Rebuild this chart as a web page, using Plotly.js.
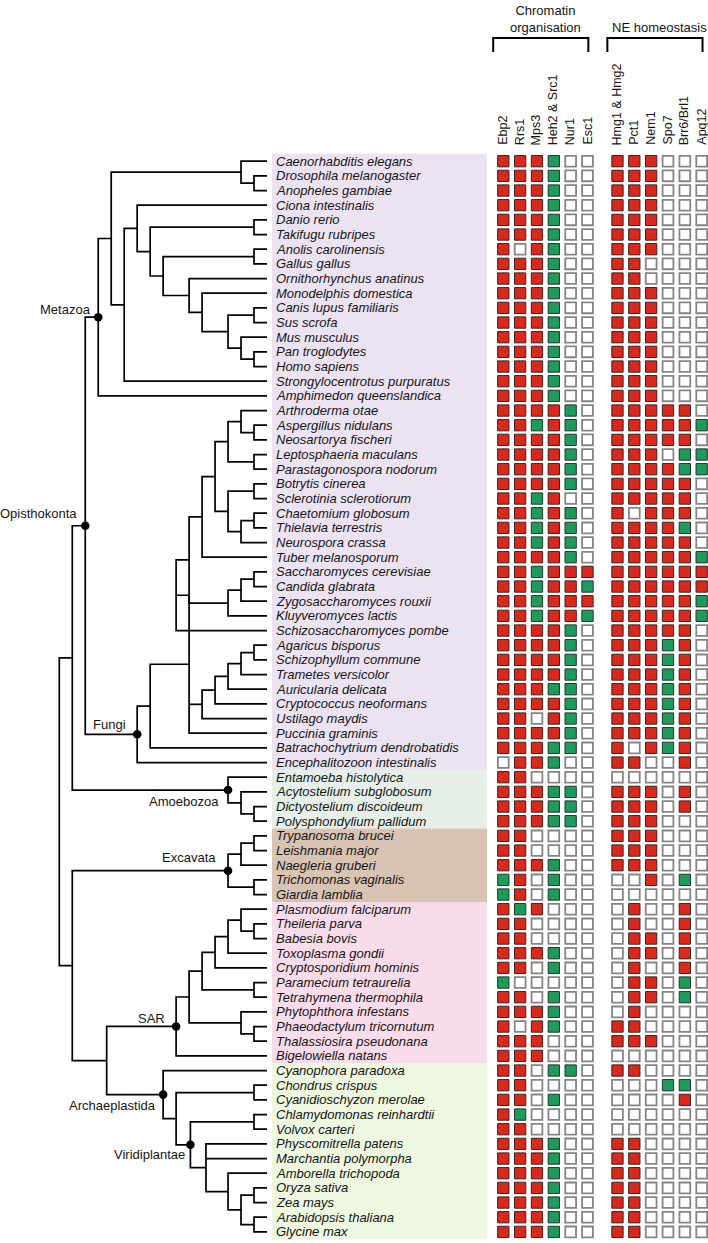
<!DOCTYPE html>
<html>
<head>
<meta charset="utf-8">
<script src="https://cdn.plot.ly/plotly-3.0.1.min.js"></script>
<style>
  html, body { margin: 0; padding: 0; background: #ffffff; }
  #chart { width: 708px; height: 1243px; }
</style>
</head>
<body>
<div id="chart"></div>
<script>
// ---------------- DATA ----------------
const species = [
  'Caenorhabditis elegans','Drosophila melanogaster','Anopheles gambiae','Ciona intestinalis',
  'Danio rerio','Takifugu rubripes','Anolis carolinensis','Gallus gallus','Ornithorhynchus anatinus',
  'Monodelphis domestica','Canis lupus familiaris','Sus scrofa','Mus musculus','Pan troglodytes',
  'Homo sapiens','Strongylocentrotus purpuratus','Amphimedon queenslandica',
  'Arthroderma otae','Aspergillus nidulans','Neosartorya fischeri','Leptosphaeria maculans',
  'Parastagonospora nodorum','Botrytis cinerea','Sclerotinia sclerotiorum','Chaetomium globosum',
  'Thielavia terrestris','Neurospora crassa','Tuber melanosporum','Saccharomyces cerevisiae',
  'Candida glabrata','Zygosaccharomyces rouxii','Kluyveromyces lactis','Schizosaccharomyces pombe',
  'Agaricus bisporus','Schizophyllum commune','Trametes versicolor','Auricularia delicata',
  'Cryptococcus neoformans','Ustilago maydis','Puccinia graminis','Batrachochytrium dendrobatidis',
  'Encephalitozoon intestinalis',
  'Entamoeba histolytica','Acytostelium subglobosum','Dictyostelium discoideum','Polysphondylium pallidum',
  'Trypanosoma brucei','Leishmania major','Naegleria gruberi','Trichomonas vaginalis','Giardia lamblia',
  'Plasmodium falciparum','Theileria parva','Babesia bovis','Toxoplasma gondii','Cryptosporidium hominis',
  'Paramecium tetraurelia','Tetrahymena thermophila','Phytophthora infestans','Phaeodactylum tricornutum',
  'Thalassiosira pseudonana','Bigelowiella natans',
  'Cyanophora paradoxa','Chondrus crispus','Cyanidioschyzon merolae','Chlamydomonas reinhardtii',
  'Volvox carteri','Physcomitrella patens','Marchantia polymorpha','Amborella trichopoda',
  'Oryza sativa','Zea mays','Arabidopsis thaliana','Glycine max'
];

const chromatinGenes = ['Ebp2','Rrs1','Mps3','Heh2 & Src1','Nur1','Esc1'];
const neGenes = ['Hmg1 & Hmg2','Pct1','Nem1','Spo7','Brr6/Brl1','Apq12'];
const groupTitles = ['Chromatin<br>organisation','NE homeostasis'];

// R = red square, G = green square, . = empty square (one char per gene, species order)
const chromatinCalls = [
  'RRRG..','RRRG..','RRRG..','RRRG..','RRRG..','RRRG..','R.RG..','RRRG..','RRRG..','RRRG..',
  'RRRG..','RRRG..','RRRG..','RRRG..','RRRG..','RRRG..','RRRG..',
  'RRRRG.','RRGRG.','RRRRG.','RRRRG.','RRRRG.','RRRRG.','RRGR..','RRGRG.','RRGRG.','RRGRG.',
  'RRRRG.','RRGRRR','RRGRRG','RRGRRR','RRGRRG','RRRRG.','RRRRG.','RRRRG.','RRRRG.','RRRGG.',
  'RRRRG.','RR.RG.','RRRRG.','RRRGG.','.RRG..',
  'RR....','RRRGG.','RRRGG.','RRRGG.',
  'RR....','RR....','RRRG..','GR.G..','GR.G..',
  'RGR...','RR....','RR....','RRRG..','RR.G..','G.....','RR.G..','RRRG..','R.RG..','RRR...','RRR...',
  'RR.GG.','RR....','RR.G..','RG....','RR....','RRRG..','RRRG..','RRRG..','RRRG..','RRRG..','RRRG..','RRRG..'
];
const neCalls = [
  'RRR...','RRR...','RRR...','RRR...','RRR...','RRR...','RRR...','RR....','RR....','RRR...',
  'RRR...','RRR...','RRR...','RRR...','RRR...','RRR...','RRR...',
  'RRRRR.','RRRRRG','RRRRR.','RRR.GG','RRRRGG','RRRRR.','RRRRR.','R.RRR.','RRRRG.','RRRRR.',
  'RRRRRG','RRRRRR','RRRRRR','RRRRRG','RRRRRG','RRRRR.','RRRGR.','RRRGR.','RRRGR.','RRRGR.',
  'RRRGR.','RRRGR.','RRRGR.','R.RGR.','RR..R.',
  '......','RRR.R.','RRR.R.','RRR...',
  'RRR...','RRR...','RRR...','..R.G.','......',
  '.R..R.','.R..R.','.RR.R.','.RR.R.','.R..R.','.RR.G.','.RR.G.','.R....','RR....','RRR...','......',
  'RR....','...GG.','....R.','......','......','RR....','RR....','RR....','RR....','RR....','RR....','RR....'
];

// Cladogram (Newick); the number after ':' is the node's depth level (tips sit at level 16)
const metazoaTree = '((((Caenorhabditis elegans,(Drosophila melanogaster,Anopheles gambiae):15):14,((Ciona intestinalis,((Danio rerio,Takifugu rubripes):15,((Anolis carolinensis,Gallus gallus):15,(Ornithorhynchus anatinus,(Monodelphis domestica,((Canis lupus familiaris,Sus scrofa):15,(Mus musculus,(Pan troglodytes,Homo sapiens):15):14):13):11):10):8):7):6,Strongylocentrotus purpuratus):5):4,Amphimedon queenslandica)Metazoa:3';
const fungiTree = '((((((((((Arthroderma otae,(Aspergillus nidulans,Neosartorya fischeri):15):14,(Leptosphaeria maculans,Parastagonospora nodorum):15):13,((Botrytis cinerea,Sclerotinia sclerotiorum):15,((Chaetomium globosum,Thielavia terrestris):15,Neurospora crassa):14):13):12,Tuber melanosporum):11,(((Saccharomyces cerevisiae,Candida glabrata):15,Zygosaccharomyces rouxii):14,Kluyveromyces lactis):13):10,Schizosaccharomyces pombe):9,(((((Agaricus bisporus,Schizophyllum commune):15,Trametes versicolor):14,Auricularia delicata):13,Cryptococcus neoformans):12,Ustilago maydis):11,Puccinia graminis):10):8,Batrachochytrium dendrobatidis):7,Encephalitozoon intestinalis)Fungi:6';
const amoebozoaTree = '(Entamoeba histolytica,(Acytostelium subglobosum,(Dictyostelium discoideum,Polysphondylium pallidum):15):14)Amoebozoa:13';
const excavataTree = '(((Trypanosoma brucei,Leishmania major):15,Naegleria gruberi):14,(Trichomonas vaginalis,Giardia lamblia):15)Excavata:13';
const sarTree = '((((((Plasmodium falciparum,(Theileria parva,Babesia bovis):15):14,Toxoplasma gondii):13,Cryptosporidium hominis):12,(Paramecium tetraurelia,Tetrahymena thermophila):15):11,(Phytophthora infestans,(Phaeodactylum tricornutum,Thalassiosira pseudonana):15):14):10,Bigelowiella natans)SAR:9';
const archaeplastidaTree = '(Cyanophora paradoxa,((Chondrus crispus,Cyanidioschyzon merolae):15,((Chlamydomonas reinhardtii,Volvox carteri):15,(Physcomitrella patens,Marchantia polymorpha,(Amborella trichopoda,((Oryza sativa,Zea mays):15,(Arabidopsis thaliana,Glycine max):15):14):13):11.3)Viridiplantae:10.1):9)Archaeplastida:8';
const treeNewick = '(((' + metazoaTree + ',' + fungiTree + ')Opisthokonta:2,' + amoebozoaTree + '):1,(' +
  excavataTree + ',(' + sarTree + ',' + archaeplastidaTree + '):3.65):1):0';
const tipLevel = 16;

// coloured label bands: first species, last species, colour
const bandFirst = ['Caenorhabditis elegans','Entamoeba histolytica','Trypanosoma brucei','Plasmodium falciparum','Cyanophora paradoxa'];
const bandLast  = ['Encephalitozoon intestinalis','Polysphondylium pallidum','Giardia lamblia','Bigelowiella natans','Glycine max'];
const bandColor = ['#ECE3F2','#E6F0E9','#D9C3B2','#F9DCEA','#EEF7E0'];

// ---------------- STYLE / GEOMETRY ----------------
const W = 708, H = 1243;
const ROW0_PX = 161.2, ROW_PX = 14.667;
const ROOT_PX = 59.3, LEVEL_PX = 12.98;
const COL0_PX = 503.3, COL_PX = 16.84, GROUP_GAP = 0.78;
const FONT = 'Liberation Sans, Arial, sans-serif';
const RED = '#D9291D', GREEN = '#1D9B5B';
const yp = p => 1 - p / H; // pixel -> paper (for decorations)

// ---------------- TREE PARSE ----------------
function parseNewick(s) {
  let i = 0;
  function node() {
    const n = { children: [] };
    if (s[i] === '(') {
      i++;
      n.children.push(node());
      while (s[i] === ',') { i++; n.children.push(node()); }
      i++; // ')'
    }
    let st = i;
    while (i < s.length && !',():'.includes(s[i])) i++;
    n.name = s.slice(st, i).trim();
    if (s[i] === ':') {
      i++; st = i;
      while (i < s.length && !',()'.includes(s[i])) i++;
      n.depth = parseFloat(s.slice(st, i));
    }
    return n;
  }
  return node();
}
const root = parseNewick(treeNewick);
function place(n) {
  if (n.children.length === 0) {
    n.x = tipLevel; n.y = species.indexOf(n.name);
  } else {
    n.children.forEach(place);
    n.x = n.depth;
    const ys = n.children.map(c => c.y);
    n.y = (Math.min(...ys) + Math.max(...ys)) / 2;
  }
}
place(root);

const tx = [], ty = [], dots = [];
(function walk(n) {
  if (!n.children.length) return;
  const c = n.children, f = c[0], l = c[c.length - 1];
  tx.push(f.x, n.x, n.x, l.x, null); ty.push(f.y, f.y, l.y, l.y, null);
  for (let k = 1; k < c.length - 1; k++) { tx.push(n.x, c[k].x, null); ty.push(c[k].y, c[k].y, null); }
  if (n.name) dots.push(n);
  c.forEach(walk);
})(root);

// ---------------- MATRIX ----------------
const genes = chromatinGenes.concat(neGenes);
const colPos = genes.map((g, j) => j + (j >= chromatinGenes.length ? GROUP_GAP : 0));
const cells = { R: { x: [], y: [] }, G: { x: [], y: [] }, '.': { x: [], y: [] } };
species.forEach((sp, r) => {
  const calls = chromatinCalls[r] + neCalls[r];
  for (let j = 0; j < calls.length; j++) { cells[calls[j]].x.push(colPos[j]); cells[calls[j]].y.push(r); }
});

const traces = [
  { x: tx, y: ty, mode: 'lines', line: { color: '#000', width: 1.7 }, hoverinfo: 'skip', xaxis: 'x', yaxis: 'y' },
  { x: dots.map(d => d.x), y: dots.map(d => d.y), mode: 'markers', marker: { color: '#000', size: 8.5 }, hoverinfo: 'skip', xaxis: 'x', yaxis: 'y' },
  { x: cells['.'].x, y: cells['.'].y, mode: 'markers', xaxis: 'x2', yaxis: 'y', hoverinfo: 'skip',
    marker: { symbol: 'square', size: 10.8, color: '#ffffff', line: { color: '#858585', width: 1.8 } } },
  { x: cells.R.x, y: cells.R.y, mode: 'markers', xaxis: 'x2', yaxis: 'y', hoverinfo: 'skip',
    marker: { symbol: 'square', size: 11.3, color: RED, line: { color: '#3b2320', width: 1 } } },
  { x: cells.G.x, y: cells.G.y, mode: 'markers', xaxis: 'x2', yaxis: 'y', hoverinfo: 'skip',
    marker: { symbol: 'square', size: 11.3, color: GREEN, line: { color: '#23352b', width: 1 } } }
];

// ---------------- ANNOTATIONS & SHAPES ----------------
const annotations = [];
species.forEach((sp, r) => annotations.push({
  x: tipLevel, y: r, xref: 'x', yref: 'y', text: sp, showarrow: false, xanchor: 'left', yanchor: 'middle',
  xshift: 7.5, font: { family: FONT, size: 13, color: '#151515', style: 'italic' }
}));
genes.forEach((g, j) => annotations.push({
  x: colPos[j], y: yp(147), xref: 'x2', yref: 'paper', text: g, showarrow: false, textangle: -90,
  xanchor: 'center', yanchor: 'bottom', font: { family: FONT, size: 12.5, color: '#151515' }
}));
const cladeShift = {
  Metazoa: [-5, 8], Opisthokonta: [-6, 12], Fungi: [-9, 10], Amoebozoa: [-7, -11], Excavata: [-10, 13],
  SAR: [-9, 8], Archaeplastida: [-5, -11], Viridiplantae: [-3, -10]
};
dots.forEach(d => annotations.push({
  x: d.x, y: d.y, xref: 'x', yref: 'y', text: d.name, showarrow: false, xanchor: 'right', yanchor: 'middle',
  xshift: cladeShift[d.name][0], yshift: cladeShift[d.name][1], font: { family: FONT, size: 13, color: '#151515' }
}));

const groups = [
  { first: 0, last: chromatinGenes.length - 1, title: groupTitles[0], ty: 18.5 },
  { first: chromatinGenes.length, last: genes.length - 1, title: groupTitles[1], ty: 27 }
];
const shapes = [];
bandFirst.forEach((f, k) => shapes.push({
  type: 'rect', xref: 'paper', yref: 'y', x0: 272 / W, x1: 487 / W,
  y0: species.indexOf(f) - 0.5, y1: species.indexOf(bandLast[k]) + 0.5,
  fillcolor: bandColor[k], line: { width: 0 }, layer: 'below'
}));
groups.forEach(g => {
  const a = colPos[g.first] - 0.6, b = colPos[g.last] + 0.05;
  shapes.push({ type: 'path', xref: 'x2', yref: 'paper',
    path: `M ${a},${yp(52)} L ${a},${yp(38)} L ${b},${yp(38)} L ${b},${yp(52)}`,
    line: { color: '#000', width: 2 } });
  annotations.push({ x: (colPos[g.first] + colPos[g.last]) / 2, y: yp(g.ty), xref: 'x2', yref: 'paper',
    text: g.title, showarrow: false, xanchor: 'center', yanchor: 'middle',
    font: { family: FONT, size: 13, color: '#151515' } });
});

const layout = {
  width: W, height: H, autosize: false, margin: { l: 0, r: 0, t: 0, b: 0 },
  paper_bgcolor: '#ffffff', plot_bgcolor: 'rgba(0,0,0,0)', showlegend: false, hovermode: false,
  xaxis: { range: [-ROOT_PX / LEVEL_PX, (W - ROOT_PX) / LEVEL_PX], visible: false, fixedrange: true },
  xaxis2: { range: [-COL0_PX / COL_PX, (W - COL0_PX) / COL_PX], visible: false, overlaying: 'x', anchor: 'y', fixedrange: true },
  yaxis: { range: [(H - ROW0_PX) / ROW_PX, -ROW0_PX / ROW_PX], visible: false, fixedrange: true },
  annotations: annotations, shapes: shapes
};
Plotly.newPlot('chart', traces, layout, { displayModeBar: false, staticPlot: true });
</script>
</body>
</html>
